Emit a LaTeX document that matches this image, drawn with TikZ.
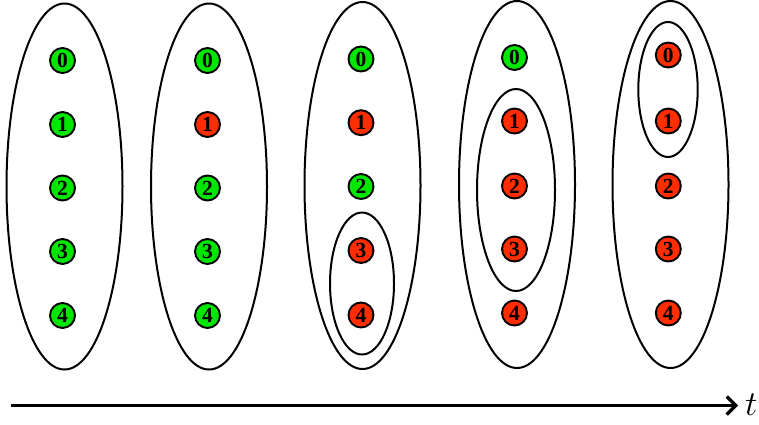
\RequirePackage{fix-cm}
\documentclass[tikz,border=0pt]{standalone}
\usepackage{fontspec}
\newfontfamily\numfont{Liberation Serif}
\usetikzlibrary{arrows.meta}
\definecolor{ngreen}{RGB}{0,230,0}
\definecolor{nred}{RGB}{255,45,0}
\begin{document}
\begin{tikzpicture}[x=1pt,y=-1pt,
  proc/.style={circle,draw=black,line width=1.9pt,minimum size=25pt,inner sep=0pt,
    font=\numfont\bfseries\fontsize{21.5}{21.5}\selectfont},
  gproc/.style={proc,fill=ngreen},
  rproc/.style={proc,fill=nred},
  grp/.style={draw=black,line width=2pt}]
\useasboundingbox (0,0) rectangle (759,424);
% column 1
\draw[grp] (64.5,186.5) ellipse [x radius=58,y radius=183];
\node[gproc] (a0) at (62.5,60.5) {0};
\node[gproc] (a1) at (62.5,124.5) {1};
\node[gproc] (a2) at (62.5,188) {2};
\node[gproc] (a3) at (62.5,251.5) {3};
\node[gproc] (a4) at (62.5,315.5) {4};
% column 2
\draw[grp] (209,186.5) ellipse [x radius=58,y radius=183];
\node[gproc] (b0) at (207.5,60.5) {0};
\node[rproc] (b1) at (207.5,124.5) {1};
\node[gproc] (b2) at (207.5,188) {2};
\node[gproc] (b3) at (207.5,251.5) {3};
\node[gproc] (b4) at (207.5,315.5) {4};
% column 3
\draw[grp] (362.5,185.5) ellipse [x radius=58,y radius=183.5];
\draw[grp] (362,283.5) ellipse [x radius=32,y radius=71];
\node[gproc] (c0) at (361,59) {0};
\node[rproc] (c1) at (361,122.7) {1};
\node[gproc] (c2) at (361,186.5) {2};
\node[rproc] (c3) at (361,250.5) {3};
\node[rproc] (c4) at (361,315) {4};
% column 4
\draw[grp] (517,184.5) ellipse [x radius=58,y radius=183.5];
\draw[grp] (516,190) ellipse [x radius=39,y radius=101];
\node[gproc] (d0) at (514.5,57.5) {0};
\node[rproc] (d1) at (514.5,121) {1};
\node[rproc] (d2) at (514.5,186) {2};
\node[rproc] (d3) at (514.5,249) {3};
\node[rproc] (d4) at (514.5,313) {4};
% column 5
\draw[grp] (670.5,184.5) ellipse [x radius=58,y radius=183.5];
\draw[grp] (668,89.5) ellipse [x radius=29.7,y radius=67.5];
\node[rproc] (e0) at (668.3,55) {0};
\node[rproc] (e1) at (668.3,121) {1};
\node[rproc] (e2) at (668.3,186) {2};
\node[rproc] (e3) at (668.3,249) {3};
\node[rproc] (e4) at (668.3,313) {4};
% time axis
\coordinate (t0) at (11,405.5);
\node[font=\fontsize{35}{35}\selectfont,inner sep=0pt,anchor=base west] (t) at (745,415) {$t$};
\draw[line width=3.2pt,-{Straight Barb[length=9pt,width=18pt,line width=3.2pt]}] (t0) -- ([xshift=-7pt]t.west |- t0);
\end{tikzpicture}
\end{document}
